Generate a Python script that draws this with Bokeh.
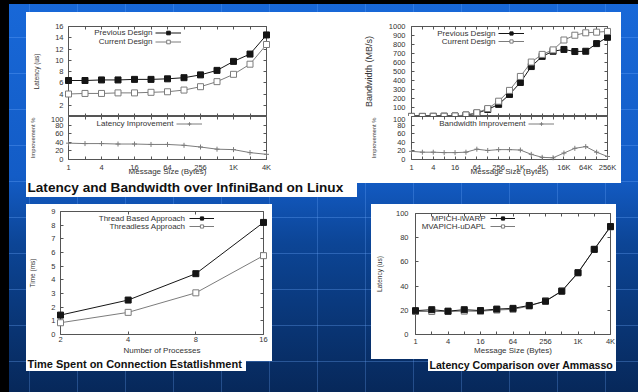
from bokeh.plotting import figure
from bokeh.models import (Range1d, FixedTicker, LinearAxis, LogAxis, Label,
                          Legend, LegendItem, Spacer)
from bokeh.layouts import column, row
from bokeh.embed import file_html
from bokeh.resources import INLINE

FONT = "Liberation Sans"
INK = "#333333"
FRAME = "#555555"
DARK = "#151515"
GREY = "#7c7c7c"

# ---------------- data ----------------
# MVAPICH latency over InfiniBand (us) by message size (bytes)
ib_sizes = [1, 2, 4, 8, 16, 32, 64, 128, 256, 512, 1024, 2048, 4096]
ib_lat_prev = [6.4, 6.4, 6.5, 6.5, 6.6, 6.6, 6.7, 6.9, 7.4, 8.2, 9.8, 11.1, 14.5]
ib_lat_cur = [4.0, 4.1, 4.1, 4.2, 4.2, 4.3, 4.4, 4.7, 5.3, 6.2, 7.5, 9.3, 12.8]
ib_lat_gain = [38, 37, 37, 36, 36, 35, 35, 33, 29, 24, 23, 16, 12]

# bandwidth over InfiniBand (MB/s)
bw_sizes = [1, 2, 4, 8, 16, 32, 64, 128, 256, 512, 1024, 2048, 4096,
            8192, 16384, 32768, 65536, 131072, 262144]
bw_prev = [1, 1, 2, 3, 5, 15, 37, 78, 135, 245, 378, 555, 668, 725, 745, 722, 725, 810, 880]
bw_cur = [1, 1, 2, 3, 6, 17, 42, 88, 170, 290, 445, 605, 690, 740, 850, 903, 930, 937, 945]
bw_gain = [19, 17, 17, 16, 16, 17, 24, 21, 23, 23, 22, 12, 5, 4, 15, 26, 30, 17, 7]

size_names = {1: "1", 4: "4", 16: "16", 64: "64", 256: "256", 1024: "1K",
              4096: "4K", 16384: "16K", 65536: "64K", 262144: "256K"}

# connection set-up time (ms) by number of processes
procs = [2, 4, 8, 16]
conn_thread = [1.42, 2.52, 4.45, 8.2]
conn_threadless = [0.86, 1.62, 3.05, 5.77]

# latency over Ammasso (us)
am_sizes = [1, 2, 4, 8, 16, 32, 64, 128, 256, 512, 1024, 2048, 4096]
am_iwarp = [19.7, 20.5, 19.3, 20.5, 19.8, 21.0, 21.6, 24.0, 27.5, 35.8, 51.0, 70.4, 89.2]
am_udapl = [19.0, 19.0, 19.0, 19.3, 19.2, 20.2, 20.8, 23.5, 27.8, 36.0, 51.2, 70.3, 89.0]

lat_ticks = [2, 4, 6, 8, 10, 12, 14, 16]
gain_ticks = [0, 20, 40, 60, 80, 100]
bw_ticks = [100, 200, 300, 400, 500, 600, 700, 800, 900, 1000]
time_ticks = [0, 1, 2, 3, 4, 5, 6, 7, 8, 9]
am_ticks = [0, 20, 40, 60, 80, 100]

# ---------------- slide styling ----------------
SLIDE_BG = {
    "background-color": "#0c438f",
    "background-image": ", ".join([
        "repeating-linear-gradient(to bottom, rgba(0,0,0,0) 0px 1px, "
        "rgba(110,170,255,0.32) 1px 2px, rgba(0,0,0,0) 2px 36px)",
        "repeating-linear-gradient(to right, rgba(0,0,0,0) 0px 29px, "
        "rgba(110,170,255,0.28) 29px 30px, rgba(0,0,0,0) 30px 48px)",
        "linear-gradient(to bottom, #1868d8 0%, #135cc6 45%, #0c4596 62%, #07285a 100%)",
    ]),
    "background-attachment": "fixed",
}
WHITE = {"background-color": "white"}


def hole(w, h):
    # a patch of slide showing through a panel
    return Spacer(width=w, height=h, styles=SLIDE_BG)


# ---------------- helpers ----------------
def chart(width, height, borders, x_range, y_range, x_log=True):
    left, right, top, bottom = borders
    p = figure(width=width, height=height, x_range=x_range, y_range=y_range,
               x_axis_type="log" if x_log else "linear", title=None,
               x_axis_location=None, y_axis_location=None,
               min_border_left=left, min_border_right=right,
               min_border_top=top, min_border_bottom=bottom,
               toolbar_location=None, output_backend="svg")
    p.frame_align = False
    p.background_fill_color = "white"
    p.border_fill_color = "white"
    p.outline_line_color = FRAME
    p.outline_line_width = 1
    p.grid.visible = False
    return p


def axis(p, side, ticks, log=False, labels=None, size="7.5px", standoff=4,
         title=None, title_size="8px", title_standoff=6):
    cls = LogAxis if log else LinearAxis
    ax = cls(ticker=FixedTicker(ticks=ticks, minor_ticks=[]))
    ax.axis_line_color = None
    ax.major_tick_in = 3
    ax.major_tick_out = 0
    ax.major_tick_line_color = FRAME
    ax.minor_tick_line_color = None
    if labels is None:
        # mirrored side: tick marks only
        ax.major_label_overrides = {t: "" for t in ticks}
        ax.major_label_text_font_size = "0px"
        ax.major_label_standoff = 0
    else:
        ax.major_label_overrides = labels
        ax.major_label_text_font = FONT
        ax.major_label_text_font_size = size
        ax.major_label_text_color = INK
        ax.major_label_standoff = standoff
    if title:
        ax.axis_label = title
        ax.axis_label_text_font = FONT
        ax.axis_label_text_font_size = title_size
        ax.axis_label_text_font_style = "normal"
        ax.axis_label_text_color = INK
        ax.axis_label_standoff = title_standoff
    p.add_layout(ax, side)
    return ax


def plain(ticks):
    return {t: str(t) for t in ticks}


def every_other(ticks):
    return {t: size_names.get(t, "") for t in ticks}


def key(p, origin, entries, text_right, first_row, pitch, glyph_w=26, gap=3, size="8px"):
    fx, fy = origin
    items = []
    for i, (name, rends) in enumerate(entries):
        row_y = first_row + i * pitch
        p.add_layout(Label(x=text_right - fx, y=fy - row_y, x_units="screen", y_units="screen",
                           text=name, text_align="right", text_baseline="middle",
                           text_font=FONT, text_font_size=size, text_color=INK))
        items.append(LegendItem(label=" ", renderers=rends))
    top = first_row - pitch / 2
    bottom = top + pitch * len(entries)
    p.add_layout(Legend(items=items, location=(text_right + gap - fx, fy - bottom),
                        orientation="vertical", padding=0, margin=0, spacing=0,
                        glyph_width=glyph_w, glyph_height=pitch, label_height=pitch,
                        label_width=0, label_standoff=0, label_text_font_size="4px",
                        border_line_color=None, background_fill_alpha=0))


def series(p, xs, ys, color, marker="square", fill=None, size=6):
    ln = p.line(xs, ys, line_color=color, line_width=1)
    mk = p.scatter(xs, ys, marker=marker, size=size, line_color=color,
                   fill_color=fill if fill else color, line_width=1, level="overlay")
    return [ln, mk]


def banner(text, width, height, size, mid):
    p = figure(width=width, height=height, x_range=Range1d(0, 1), y_range=Range1d(0, 1),
               title=None, min_border=0, x_axis_location=None, y_axis_location=None,
               toolbar_location=None, output_backend="svg")
    p.frame_align = False
    p.outline_line_color = None
    p.background_fill_color = "white"
    p.border_fill_color = "white"
    p.grid.visible = False
    p.add_layout(Label(x=1, y=mid, x_units="screen", y_units="screen", text=text,
                       text_font=FONT, text_font_size=size, text_font_style="bold",
                       text_color="#111111", text_baseline="middle"))
    return p


# ---------------- InfiniBand latency ----------------
lat_x = Range1d(1, 4096)
lat_top = chart(331, 104, (42, 91, 14, 0), lat_x, Range1d(0, 16))
axis(lat_top, "left", lat_ticks, labels=plain(lat_ticks), title="Latency (us)",
     title_size="6.5px", standoff=5, title_standoff=12)
axis(lat_top, "right", lat_ticks)
axis(lat_top, "above", ib_sizes, log=True)
axis(lat_top, "below", ib_sizes, log=True)
r_prev = series(lat_top, ib_sizes, ib_lat_prev, DARK)
r_cur = series(lat_top, ib_sizes, ib_lat_cur, GREY, fill="white")
key(lat_top, (68, 116), [("Previous Design", r_prev), ("Current Design", r_cur)],
    text_right=152, first_row=32, pitch=9)

lat_bot = chart(331, 63, (42, 91, 0, 20), lat_x, Range1d(0, 100))
axis(lat_bot, "left", gain_ticks, labels=plain(gain_ticks), title="Improvement %",
     title_size="5.8px", standoff=5, title_standoff=12)
axis(lat_bot, "right", gain_ticks)
axis(lat_bot, "above", ib_sizes, log=True)
axis(lat_bot, "below", ib_sizes, log=True, labels=every_other(ib_sizes), standoff=3,
     title="Message Size (Bytes)", title_size="8px", title_standoff=-8)
r_gain = series(lat_bot, ib_sizes, ib_lat_gain, GREY, marker="cross", size=5)
key(lat_bot, (68, 159), [("Latency Improvement", r_gain)], text_right=173, first_row=123, pitch=9)

# ---------------- InfiniBand bandwidth ----------------
bw_x = Range1d(1, 262144)
bw_top = chart(264, 104, (54, 14, 14, 0), bw_x, Range1d(0, 1000))
axis(bw_top, "left", bw_ticks, labels=plain(bw_ticks), title="Bandwidth (MB/s)",
     title_size="9px", standoff=6, title_standoff=12)
axis(bw_top, "right", bw_ticks)
axis(bw_top, "above", bw_sizes, log=True)
axis(bw_top, "below", bw_sizes, log=True)
b_prev = series(bw_top, bw_sizes, bw_prev, DARK)
b_cur = series(bw_top, bw_sizes, bw_cur, GREY, fill="white")
key(bw_top, (411, 116), [("Previous Design", b_prev), ("Current Design", b_cur)],
    text_right=495, first_row=33, pitch=8)

bw_bot = chart(264, 67, (54, 14, 0, 24), bw_x, Range1d(0, 100))
axis(bw_bot, "left", gain_ticks, labels=plain(gain_ticks), title="Improvement %",
     title_size="5.8px", standoff=6, title_standoff=13)
axis(bw_bot, "right", gain_ticks)
axis(bw_bot, "above", bw_sizes, log=True)
axis(bw_bot, "below", bw_sizes, log=True, labels=every_other(bw_sizes), standoff=3,
     title="Message Size (Bytes)", title_size="8px", title_standoff=-8)
b_gain = series(bw_bot, bw_sizes, bw_gain, GREY, marker="cross", size=5)
key(bw_bot, (411, 159), [("Bandwidth Improvement", b_gain)], text_right=525, first_row=123, pitch=9)

# ---------------- connection establishment ----------------
conn = chart(246, 153, (32, 9, 7, 23), Range1d(2, 16), Range1d(0, 9))
axis(conn, "left", time_ticks, labels=plain(time_ticks), title="Time (ms)",
     title_size="6.5px", standoff=5, title_standoff=12)
axis(conn, "right", time_ticks)
axis(conn, "above", procs, log=True)
axis(conn, "below", procs, log=True, labels=plain(procs), standoff=2,
     title="Number of Processes", title_size="8px", title_standoff=1)
c_thr = series(conn, procs, conn_thread, DARK)
c_less = series(conn, procs, conn_threadless, GREY, fill="white")
key(conn, (58, 334), [("Thread Based Approach", c_thr), ("Threadless Approach", c_less)],
    text_right=183, first_row=218, pitch=8, glyph_w=25, gap=4)

# ---------------- Ammasso latency ----------------
am = chart(245, 153, (44, 6, 9, 22), Range1d(1, 4096), Range1d(0, 100))
axis(am, "left", am_ticks, labels=plain(am_ticks), title="Latency (us)",
     title_size="6.5px", standoff=7, title_standoff=10)
axis(am, "right", am_ticks)
axis(am, "above", am_sizes, log=True)
axis(am, "below", am_sizes, log=True, labels=every_other(am_sizes), standoff=2,
     title="Message Size (Bytes)", title_size="8px", title_standoff=-3)
a_udapl = series(am, am_sizes, am_udapl, GREY, fill="white")
a_iwarp = series(am, am_sizes, am_iwarp, DARK)
key(am, (415, 335), [("MPICH-iWARP", a_iwarp), ("MVAPICH-uDAPL", a_udapl)],
    text_right=485, first_row=219, pitch=8, glyph_w=25, gap=5)

# ---------------- slide assembly ----------------
top_panel = row(
    column(lat_top, lat_bot,
           banner("Latency and Bandwidth over InfiniBand on Linux", 331, 18, "13.6px", 10),
           styles=WHITE),
    column(bw_top, bw_bot, hole(264, 14), styles=WHITE),
    styles=WHITE,
)

conn_panel = column(
    conn,
    row(banner("Time Spent on Connection Estatlishment", 220, 14, "11px", 8),
        column(Spacer(width=26, height=4), hole(26, 10))),
    styles=WHITE,
)

am_panel = column(
    am,
    row(column(Spacer(width=57, height=2), hole(57, 12)),
        banner("Latency Comparison over Ammasso", 188, 14, "10.6px", 7)),
    styles=WHITE,
)

slide = column(
    Spacer(width=638, height=12),
    row(Spacer(width=26, height=185), top_panel),
    Spacer(width=638, height=7),
    row(Spacer(width=26, height=167), conn_panel, Spacer(width=99, height=167), am_panel),
    width=638, height=392,
    styles=dict(SLIDE_BG, **{"box-shadow": "inset 9px 4px 0 0 #000000"}),
)

open("out.html", "w").write(file_html(slide, INLINE))
